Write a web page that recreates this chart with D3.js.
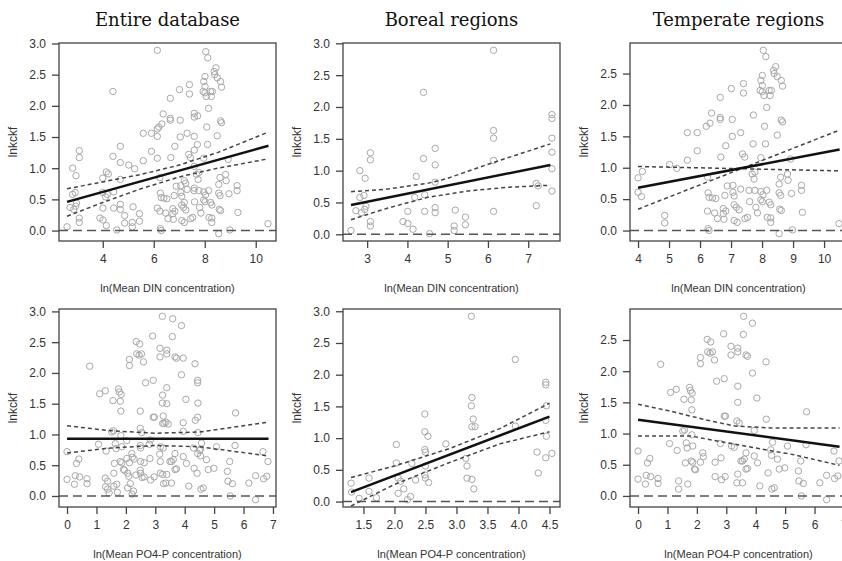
<!DOCTYPE html>
<meta charset="utf-8">
<style>
body { margin: 0; background: #fff; }
svg text { font-family: "Liberation Sans", Arial, sans-serif; fill: #333; }
.title { font-family: "DejaVu Serif", serif; font-size: 18px; fill: #111; }
.pt { fill: none; stroke: #a8a8a8; stroke-width: 1; }
.fit { fill: none; stroke: #111; stroke-width: 2.5px; }
.ci { fill: none; stroke: #444; stroke-width: 1.5px; stroke-dasharray: 4,3; }
.zero { fill: none; stroke: #555; stroke-width: 1.5px; stroke-dasharray: 9,5; }
.frame { fill: none; stroke: #444; stroke-width: 1.3px; }
</style>
<body>
<script src="https://d3js.org/d3.v7.min.js"></script>
<script>

// column titles and axis titles
var titles = ["Entire database", "Boreal regions", "Temperate regions"];
var xTitles = ["ln(Mean DIN concentration)", "ln(Mean PO4-P concentration)"];
var yTitle = "lnkckf";

// boreal sites, DIN
var dinBoreal = [
  [2.60,0.06],[2.82,1.00],[2.95,0.88],[2.82,0.58],[2.92,0.61],[2.86,0.34],[2.94,0.39],[2.97,0.44],[2.72,0.37],
  [3.08,1.28],[3.08,1.17],[3.08,0.20],[3.08,0.13],
  [4.01,0.36],[3.89,0.20],[4.01,0.17],[4.14,0.08],[4.22,0.91],[4.18,0.58],
  [4.40,2.23],[4.40,1.19],[4.43,0.36],[4.43,0.62],[4.55,0.01],
  [4.69,1.35],[4.69,1.09],[4.69,0.82],[4.69,0.42],[4.69,0.34],
  [5.19,0.38],[5.16,0.13],[5.16,0.06],[5.44,0.27],[5.44,0.15],
  [6.14,2.89],[6.14,1.63],[6.14,1.51],[6.14,1.16],[6.14,0.36],
  [7.20,0.45],[7.20,0.80],[7.25,0.76],
  [7.59,1.88],[7.59,1.82],[7.59,1.51],[7.59,1.29],[7.59,1.03],[7.59,0.68]
];

// temperate sites, DIN
var dinTemperate = [
  [4.00,0.84],[4.00,0.61],[4.11,0.54],[4.14,0.94],[4.86,0.24],[4.86,0.12],[5.02,1.05],[5.25,0.99],
  [5.59,1.56],[5.59,1.12],[5.91,1.56],[5.91,1.27],[6.20,1.66],[6.32,1.71],[6.37,1.87],
  [6.24,0.85],[6.26,0.60],[6.29,0.53],[6.40,0.52],[6.24,0.31],[6.26,0.03],[6.29,0.00],
  [6.51,0.51],[6.47,0.28],[6.56,0.19],[6.65,1.80],[6.65,1.77],[6.65,2.12],[6.67,1.17],
  [6.75,0.35],[6.83,0.31],[6.75,0.27],[6.77,0.18],[6.83,1.35],[6.80,0.56],[6.88,0.71],
  [7.01,2.26],[7.04,1.77],[7.04,1.50],[7.06,0.61],[7.10,0.55],[7.06,0.72],[7.10,0.41],[7.17,0.37],
  [7.10,0.16],[7.20,0.13],[7.31,1.56],[7.31,0.66],[7.26,0.33],[7.40,2.19],[7.40,2.34],
  [7.37,1.22],[7.44,1.17],[7.45,0.19],[7.53,0.21],[7.58,0.64],[7.60,0.46],
  [7.72,1.84],[7.71,1.38],[7.68,0.90],[7.74,0.82],[7.77,0.93],[7.77,0.64],[7.80,0.37],[7.85,0.28],
  [7.96,2.39],[8.01,2.47],[8.01,2.31],[7.94,2.23],[8.01,2.21],[8.06,2.15],[8.04,2.87],[8.12,2.77],
  [8.08,1.66],[8.11,1.38],[7.96,1.16],[7.96,0.62],[8.03,0.57],[7.96,0.49],[8.01,0.46],
  [8.15,1.96],[8.23,2.23],[8.26,2.15],[8.30,2.23],[8.15,0.64],[8.23,0.45],[8.28,0.41],
  [8.17,0.21],[8.28,0.20],[8.28,0.13],[8.37,2.55],[8.44,2.61],[8.39,2.50],[8.49,2.45],[8.49,1.52],
  [8.55,0.74],[8.60,0.85],[8.55,0.60],[8.60,0.56],[8.57,0.34],[8.62,0.32],[8.55,-0.05],
  [8.62,2.39],[8.66,2.30],[8.62,1.76],[8.66,1.73],[8.82,0.90],[8.84,0.80],[8.95,0.59],[8.98,0.01],
  [8.92,1.14],[9.27,0.72],[9.27,0.64],[9.30,0.29],[10.48,0.11]
];

// boreal sites, PO4-P
var po4Boreal = [
  [1.30,0.29],[1.31,0.15],[1.43,0.05],[1.59,0.37],[1.59,0.16],[1.71,0.06],
  [2.03,0.90],[2.03,0.61],[2.06,0.37],[2.10,0.32],[2.06,0.13],[2.15,0.20],[2.21,0.03],[2.26,0.08],
  [2.28,0.60],[2.34,0.34],[2.49,1.38],[2.49,1.10],[2.54,1.03],[2.49,0.82],[2.50,0.78],[2.50,0.56],
  [2.49,0.42],[2.50,0.37],[2.55,0.30],[2.83,0.91],[3.15,0.68],[3.17,0.56],[3.17,0.37],
  [3.24,2.92],[3.25,1.64],[3.24,1.51],[3.27,1.30],[3.25,1.18],[3.30,1.18],[3.25,0.35],[3.28,0.20],
  [3.95,2.24],[3.95,1.19],[4.30,0.78],[4.32,0.45],[4.44,1.88],[4.44,1.84],[4.45,1.51],
  [4.44,1.28],[4.45,1.03],[4.44,0.69],[4.54,0.76]
];

// temperate sites, PO4-P
var po4Temperate = [
  [0.00,0.72],[0.00,0.27],[0.25,0.19],[0.28,0.33],[0.43,0.31],[0.32,0.53],[0.40,0.60],
  [0.68,0.28],[0.68,0.20],[0.77,2.11],[1.07,0.84],[1.11,1.66],[1.30,1.71],[1.33,0.73],
  [1.38,0.24],[1.38,0.11],[1.52,1.04],[1.58,1.06],[1.56,1.55],[1.61,0.53],[1.64,0.85],[1.67,0.77],
  [1.69,0.19],[1.75,1.74],[1.78,1.69],[1.81,1.54],[1.84,1.65],[1.83,1.38],[1.81,0.56],[1.86,0.54],
  [1.83,0.98],[1.92,0.43],[1.95,0.42],[1.86,0.80],[2.12,0.54],[2.20,0.69],[2.22,0.63],
  [2.12,2.12],[2.12,2.22],[2.37,2.31],[2.45,2.29],[2.53,2.31],[2.35,2.51],[2.47,2.47],[2.60,2.18],
  [2.62,0.54],[2.67,1.84],[2.62,0.31],[2.80,0.84],[2.82,0.61],[2.84,0.26],[2.96,0.31],
  [2.91,2.60],[2.93,1.88],[2.93,1.28],[2.97,1.28],[3.16,2.40],[3.16,2.26],[3.18,0.80],[3.27,0.78],
  [3.39,2.31],[3.39,2.37],[3.39,1.76],[3.39,1.50],[3.36,1.20],[3.44,1.17],[3.39,0.35],[3.36,0.21],
  [3.50,0.56],[3.55,0.56],[3.61,0.59],[3.55,0.21],[3.58,2.59],[3.59,2.88],[3.67,2.26],[3.72,2.24],
  [3.67,0.69],[3.67,0.43],[3.72,0.44],[3.89,2.77],[3.89,1.97],[3.95,1.05],[3.95,0.64],
  [4.04,1.57],[4.06,0.53],[4.14,0.16],[4.35,2.15],[4.36,1.23],[4.42,0.37],[4.51,0.74],[4.54,0.65],
  [4.57,0.86],[4.55,0.11],[4.63,0.13],[4.74,0.59],[4.80,0.43],[4.99,0.45],[5.08,0.80],
  [5.45,0.40],[5.47,0.24],[5.53,0.56],[5.55,0.00],[5.62,0.20],[5.73,1.35],[5.71,0.82],
  [6.18,0.21],[6.41,0.33],[6.41,-0.06],[6.66,0.72],[6.68,0.28],[6.79,0.32],[6.83,0.56]
];

// fitted lines and confidence bands
var dinEntireFit = [[2.6,0.46],[10.5,1.36]];
var dinEntireUp = [[2.6,0.67],[4,0.78],[5.5,0.90],[7,1.05],[8.5,1.25],[10.5,1.58]];
var dinEntireLo = [[2.6,0.23],[4,0.45],[5.5,0.67],[7,0.86],[8.5,1.00],[10.5,1.15]];

var dinBorealFit = [[2.6,0.46],[7.55,1.09]];
var dinBorealUp = [[2.6,0.67],[3.5,0.71],[4.5,0.80],[5,0.88],[6,1.10],[7.55,1.42]];
var dinBorealLo = [[2.6,0.23],[3.5,0.41],[4.5,0.58],[5.5,0.68],[6.5,0.74],[7.55,0.77]];

var dinTempFit = [[4,0.68],[10.5,1.29]];
var dinTempUp = [[4,0.34],[10.5,1.60]];
var dinTempLo = [[4,1.02],[10.5,0.95]];

var po4EntireFit = [[0,0.93],[6.85,0.93]];
var po4EntireUp = [[0,1.14],[1.5,1.06],[3,1.02],[4.5,1.04],[6.85,1.20]];
var po4EntireLo = [[0,0.70],[1.5,0.78],[3,0.82],[4.5,0.80],[6.85,0.65]];

var po4BorealFit = [[1.3,0.15],[4.5,1.34]];
var po4BorealUp = [[1.3,0.38],[2,0.56],[2.9,0.84],[3.7,1.15],[4.5,1.55]];
var po4BorealLo = [[1.3,-0.07],[2,0.27],[2.9,0.62],[3.7,0.91],[4.5,1.10]];

var po4TempFit = [[0,1.22],[6.85,0.79]];
var po4TempUp = [[0,1.47],[1.1,1.36],[2.3,1.22],[3.3,1.12],[4.5,1.09],[6.85,1.09]];
var po4TempLo = [[0,0.96],[1.8,0.96],[3.05,0.85],[5.3,0.66],[6.85,0.49]];

// tick values
var yTicks3 = [0, 0.5, 1, 1.5, 2, 2.5, 3];
var yTicks25 = [0, 0.5, 1, 1.5, 2, 2.5];
var dinEntireTicks = [4, 6, 8, 10];
var dinBorealTicks = [3, 4, 5, 6, 7];
var dinTempTicks = [4, 5, 6, 7, 8, 9, 10];
var po4EntireTicks = [0, 1, 2, 3, 4, 5, 6, 7];
var po4BorealTicks = [1.5, 2, 2.5, 3, 3.5, 4, 4.5];
var po4TempTicks = [0, 1, 2, 3, 4, 5, 6, 7];

// layout
var width = 842, height = 561;
var colLeft = [59, 343, 630], boxW = 217;
var rowTop = [43, 309], boxH = 198;

var svg = d3.select("body").append("svg")
    .attr("width", width)
    .attr("height", height);
svg.append("rect").attr("width", width).attr("height", height).attr("fill", "#fff");

var panels = [
  {row:0, col:0, pts: dinBoreal.concat(dinTemperate), fit: dinEntireFit, up: dinEntireUp, lo: dinEntireLo, xt: dinEntireTicks, yt: yTicks3, fmt: "d"},
  {row:0, col:1, pts: dinBoreal, fit: dinBorealFit, up: dinBorealUp, lo: dinBorealLo, xt: dinBorealTicks, yt: yTicks3, fmt: "d"},
  {row:0, col:2, pts: dinTemperate, fit: dinTempFit, up: dinTempUp, lo: dinTempLo, xt: dinTempTicks, yt: yTicks25, fmt: "d"},
  {row:1, col:0, pts: po4Boreal.concat(po4Temperate), fit: po4EntireFit, up: po4EntireUp, lo: po4EntireLo, xt: po4EntireTicks, yt: yTicks3, fmt: "d"},
  {row:1, col:1, pts: po4Boreal, fit: po4BorealFit, up: po4BorealUp, lo: po4BorealLo, xt: po4BorealTicks, yt: yTicks3, fmt: ".1f"},
  {row:1, col:2, pts: po4Temperate, fit: po4TempFit, up: po4TempUp, lo: po4TempLo, xt: po4TempTicks, yt: yTicks25, fmt: "d"}
];

// R style: data range padded by 4% on each side
function padded(ext) {
  var d = (ext[1] - ext[0]) * 0.04;
  return [ext[0] - d, ext[1] + d];
}

panels.forEach(function(p, i) {
  var left = colLeft[p.col], top = rowTop[p.row];
  var x = d3.scaleLinear()
      .domain(padded(d3.extent(p.pts, function(d) { return d[0]; })))
      .range([0, boxW]);
  var y = d3.scaleLinear()
      .domain(padded(d3.extent(p.pts, function(d) { return d[1]; })))
      .range([boxH, 0]);

  var g = svg.append("g").attr("transform", "translate(" + left + "," + top + ")");

  g.append("clipPath").attr("id", "clip" + i)
    .append("rect").attr("width", boxW).attr("height", boxH);
  var inner = g.append("g").attr("clip-path", "url(#clip" + i + ")");

  // points
  inner.selectAll("circle").data(p.pts).enter().append("circle")
      .attr("class", "pt")
      .attr("cx", function(d) { return x(d[0]); })
      .attr("cy", function(d) { return y(d[1]); })
      .attr("r", 3.2);

  // zero line
  inner.append("line").attr("class", "zero")
      .attr("x1", 0).attr("x2", boxW)
      .attr("y1", y(0)).attr("y2", y(0));

  var line = d3.line()
      .x(function(d) { return x(d[0]); })
      .y(function(d) { return y(d[1]); });

  inner.append("path").datum(p.up).attr("class", "ci").attr("d", line);
  inner.append("path").datum(p.lo).attr("class", "ci").attr("d", line);
  inner.append("path").datum(p.fit).attr("class", "fit").attr("d", line);

  // axes
  var xAxis = g.append("g").attr("transform", "translate(0," + boxH + ")")
      .call(d3.axisBottom(x).tickValues(p.xt).tickFormat(d3.format(p.fmt)).tickSize(7).tickPadding(6));
  var yAxis = g.append("g")
      .call(d3.axisLeft(y).tickValues(p.yt).tickFormat(d3.format(".1f")).tickSize(7).tickPadding(6));
  [xAxis, yAxis].forEach(function(a) {
    a.select(".domain").remove();
    a.selectAll("line").attr("stroke", "#444").attr("stroke-width", 1.3);
    a.selectAll("text").style("font-size", "12px").attr("fill", "#333")
      .style("font-family", "'Liberation Sans', Arial, sans-serif");
  });

  g.append("rect").attr("class", "frame").attr("width", boxW).attr("height", boxH);

  // axis titles
  g.append("text")
      .attr("x", boxW / 2).attr("y", boxH + 51)
      .attr("text-anchor", "middle")
      .style("font-size", "11px")
      .text(xTitles[p.row]);
  g.append("text")
      .attr("transform", "translate(-42," + (boxH / 2) + ") rotate(-90)")
      .attr("text-anchor", "middle")
      .style("font-size", "12px")
      .text(yTitle);

  if (p.row == 0) {
    g.append("text").attr("class", "title")
        .attr("x", boxW / 2).attr("y", -17)
        .attr("text-anchor", "middle")
        .text(titles[p.col]);
  }
});

</script>
</body>
